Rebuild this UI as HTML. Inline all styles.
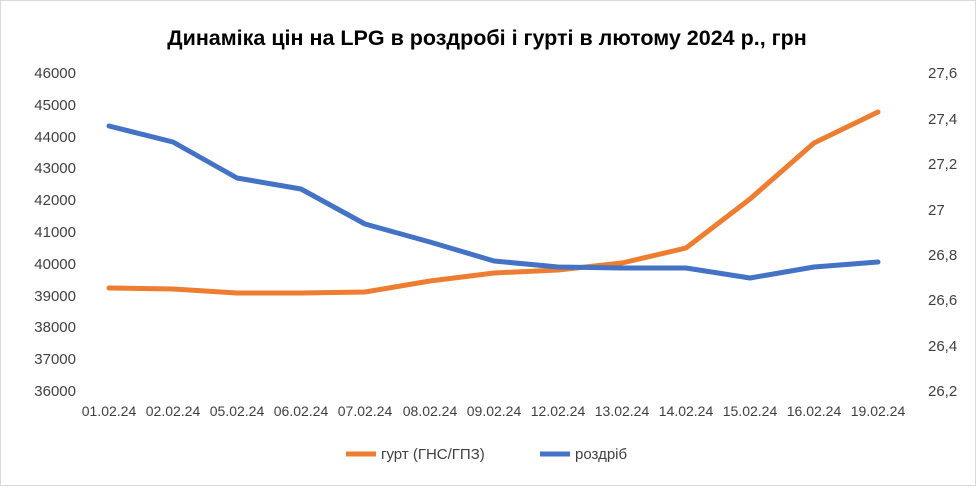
<!DOCTYPE html>
<html><head><meta charset="utf-8"><style>
body{margin:0;background:#fff;}
svg text{font-family:"Liberation Sans","DejaVu Sans",sans-serif;fill:#404040;}
</style></head><body>
<svg width="976" height="486" xmlns="http://www.w3.org/2000/svg">
<rect x="0.5" y="0.5" width="975" height="485" fill="#fff" stroke="#d9d9d9"/>
<text x="487" y="45" text-anchor="middle" font-size="21.5" font-weight="bold" style="fill:#000">Динаміка цін на LPG в роздробі і гурті в лютому 2024 р., грн</text>
<g font-size="15" text-anchor="end">
<text x="76" y="78">46000</text><text x="76" y="110">45000</text><text x="76" y="142">44000</text><text x="76" y="173">43000</text><text x="76" y="205">42000</text><text x="76" y="237">41000</text><text x="76" y="269">40000</text><text x="76" y="301">39000</text><text x="76" y="332">38000</text><text x="76" y="364">37000</text><text x="76" y="396">36000</text>
</g>
<g font-size="15" text-anchor="start">
<text x="928" y="78">27,6</text><text x="928" y="124">27,4</text><text x="928" y="169">27,2</text><text x="928" y="215">27</text><text x="928" y="260">26,8</text><text x="928" y="305">26,6</text><text x="928" y="351">26,4</text><text x="928" y="396">26,2</text>
</g>
<g font-size="14" text-anchor="middle">
<text x="109" y="416">01.02.24</text><text x="173" y="416">02.02.24</text><text x="237" y="416">05.02.24</text><text x="301" y="416">06.02.24</text><text x="365" y="416">07.02.24</text><text x="430" y="416">08.02.24</text><text x="494" y="416">09.02.24</text><text x="558" y="416">12.02.24</text><text x="622" y="416">13.02.24</text><text x="686" y="416">14.02.24</text><text x="750" y="416">15.02.24</text><text x="814" y="416">16.02.24</text><text x="878" y="416">19.02.24</text>
</g>
<polyline fill="none" stroke="#ED7D31" stroke-width="5" stroke-linejoin="round" stroke-linecap="round" points="109,288 173,289 237,293 301,293 365,292 430,281 494,273 558,270 622,263 686,248 750,199 814,143 878,112"/>
<polyline fill="none" stroke="#4472C4" stroke-width="5" stroke-linejoin="round" stroke-linecap="round" points="109,126 173,142 237,178 301,189 365,224 430,242 494,261 558,267 622,268 686,268 750,278 814,267 878,262"/>
<line x1="346" y1="454" x2="376" y2="454" stroke="#ED7D31" stroke-width="5"/>
<text x="381" y="459" font-size="15">гурт (ГНС/ГПЗ)</text>
<line x1="540" y1="454" x2="570" y2="454" stroke="#4472C4" stroke-width="5"/>
<text x="575" y="459" font-size="15">роздріб</text>
</svg>
</body></html>
